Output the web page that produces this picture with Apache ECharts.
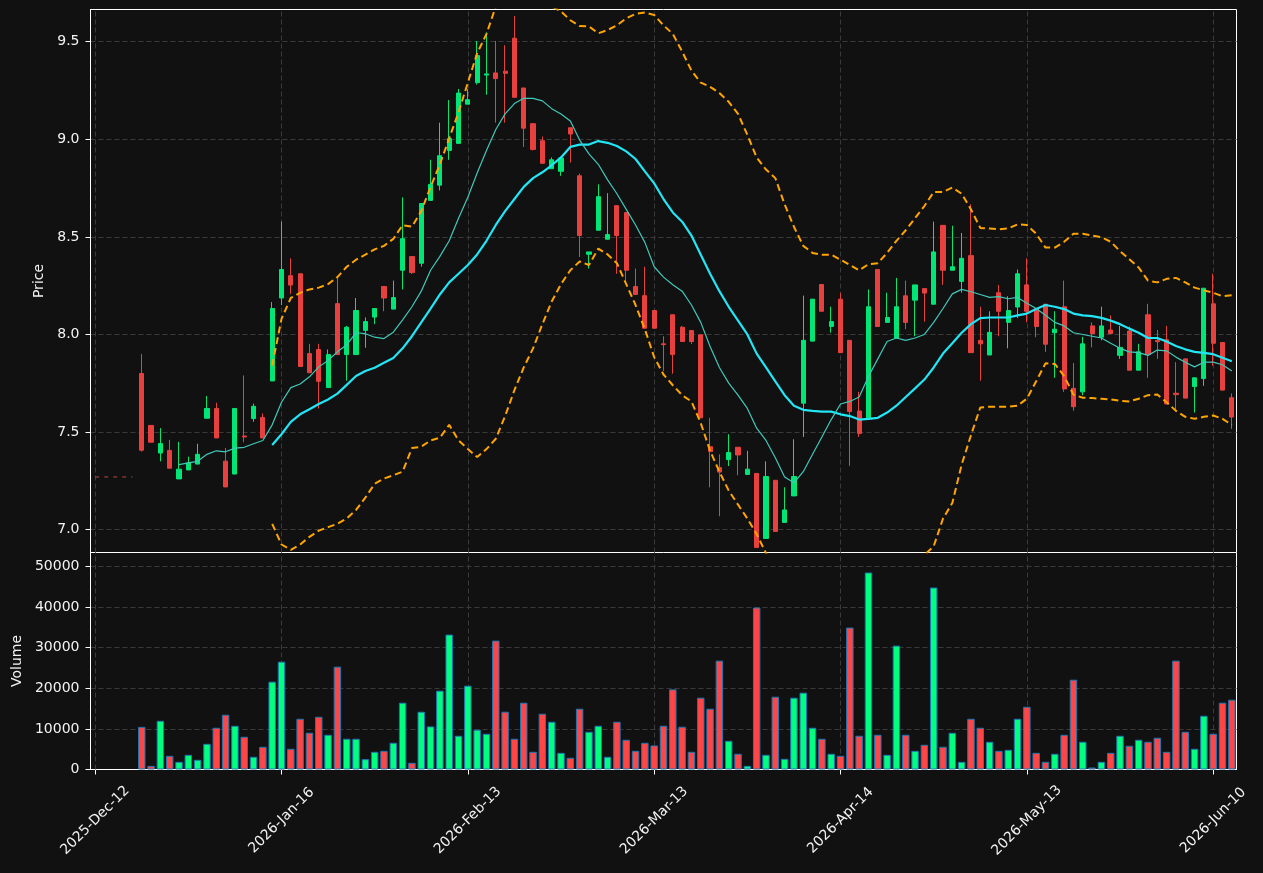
<!DOCTYPE html>
<html>
<head>
<meta charset="utf-8">
<title>Price and Volume</title>
<script src="https://cdn.jsdelivr.net/npm/echarts@6.0.0/dist/echarts.min.js"></script>
<style>
  html, body { margin: 0; padding: 0; background: #111111; }
  #chart { width: 1263px; height: 873px; }
</style>
</head>
<body>
<div id="chart"></div>
<script>
// x axis: one category per trading day, a date label every 20 days
const dayCount = 123;
const firstBar = 5;
const tickStep = 20;
const tickLabels = ['2025-Dec-12', '2026-Jan-16', '2026-Feb-13', '2026-Mar-13', '2026-Apr-14', '2026-May-13', '2026-Jun-10'];
const priceTicks = [7.0, 7.5, 8.0, 8.5, 9.0, 9.5];
const volumeTicks = [0, 10000, 20000, 30000, 40000, 50000];

// OHLC, one entry per bar from day 5 to day 122
const opens = [7.80,7.534,7.393,7.406,7.26,7.306,7.336,7.571,7.621,7.351,7.285,7.48,7.569,7.575,7.762,8.187,
  8.301,8.311,7.902,7.923,7.728,8.158,7.897,7.897,8.021,8.089,8.246,8.13,8.329,8.399,8.365,8.687,8.765,8.943,8.979,9.18,
  9.29,9.329,9.34,9.349,9.518,9.263,9.08,8.993,8.849,8.836,9.059,8.813,8.411,8.534,8.488,8.66,8.625,8.246,8.199,8.123,
  7.952,8.101,8.037,8.02,7.998,7.425,7.318,7.359,7.422,7.283,7.288,6.955,7.253,7.037,7.173,7.648,7.966,8.256,8.041,8.181,
  7.97,7.608,7.573,8.333,8.062,7.982,8.198,8.176,8.235,8.155,8.559,8.329,8.272,8.404,7.97,7.895,8.214,8.062,8.141,8.254,
  8.133,8.155,8.009,8.142,7.724,7.706,8.044,7.986,8.023,7.893,8.018,7.817,8.101,7.97,7.973,7.699,7.875,7.733,7.774,8.157,
  7.959,7.676];
const closes = [7.407,7.448,7.441,7.315,7.31,7.342,7.386,7.621,7.47,7.219,7.621,7.475,7.632,7.47,8.133,8.333,
  8.253,7.836,7.804,7.76,7.897,7.897,8.037,8.123,8.066,8.133,8.187,8.189,8.491,8.317,8.671,8.769,8.916,9.004,9.237,9.203,
  9.429,9.335,9.311,9.338,9.215,9.057,8.948,8.877,8.895,8.904,9.027,8.507,8.423,8.706,8.512,8.507,8.329,8.205,8.032,8.032,
  7.948,7.897,7.964,7.964,7.573,7.40,7.295,7.395,7.383,7.31,6.909,7.272,6.991,7.101,7.272,7.97,8.181,8.119,8.066,7.907,
  7.605,7.493,8.142,8.041,8.087,8.142,8.062,8.254,8.212,8.423,8.329,8.347,8.39,7.907,7.952,8.011,8.119,8.123,8.311,8.119,
  8.041,7.95,8.027,7.721,7.63,7.952,8.005,8.044,8.005,7.934,7.817,7.911,7.897,7.963,7.644,7.692,7.674,7.778,8.237,7.955,
  7.715,7.577];
const lows = [7.40,7.448,7.35,7.315,7.26,7.306,7.336,7.571,7.47,7.219,7.285,7.448,7.553,7.47,7.762,8.151,
  8.208,7.836,7.804,7.621,7.728,7.897,7.763,7.897,7.932,8.053,8.119,8.13,8.231,8.31,8.347,8.687,8.738,8.895,8.979,9.18,
  9.281,9.228,9.085,9.085,9.215,8.961,8.943,8.877,8.849,8.813,8.881,8.397,8.338,8.534,8.488,8.311,8.276,8.205,8.032,8.032,
  7.813,7.799,7.964,7.952,7.573,7.217,7.069,7.326,7.279,7.283,6.909,6.955,6.991,7.037,7.173,7.475,7.966,8.119,8.009,7.907,
  7.327,7.475,7.573,8.041,8.062,7.982,8.027,7.991,8.066,8.155,8.254,8.329,8.214,7.907,7.763,7.895,7.991,7.929,8.084,8.062,
  7.986,7.911,7.778,7.706,7.609,7.689,7.934,7.97,8.005,7.875,7.817,7.817,7.778,7.875,7.644,7.617,7.674,7.6,7.737,7.84,
  7.715,7.516];
const highs = [7.90,7.534,7.52,7.46,7.45,7.374,7.44,7.685,7.65,7.418,7.621,7.79,7.646,7.596,8.166,8.578,
  8.39,8.311,7.952,7.952,7.923,8.294,8.044,8.187,8.087,8.133,8.246,8.276,8.703,8.399,8.671,8.895,9.085,9.201,9.258,9.258,
  9.504,9.548,9.504,9.482,9.632,9.263,9.08,9.014,8.907,8.904,9.059,8.824,8.423,8.769,8.724,8.66,8.625,8.338,8.347,8.123,
  7.991,8.101,8.044,8.02,7.998,7.573,7.386,7.489,7.422,7.404,7.288,7.35,7.253,7.217,7.463,8.199,8.181,8.256,8.142,8.213,
  7.97,7.706,8.231,8.333,8.214,8.29,8.276,8.254,8.235,8.578,8.559,8.557,8.52,8.667,8.142,8.119,8.254,8.196,8.333,8.39,
  8.133,8.155,8.119,8.276,7.854,7.988,8.062,8.142,8.098,8.044,8.041,7.952,8.157,8.023,8.044,7.858,7.875,7.778,8.237,8.311,
  7.959,7.698];
const volumes = [10500,900,12000,3370,1890,3620,2390,6330,10280,13490,10770,8060,3130,5590,21630,26560,
  5100,12500,9050,12990,8550,25330,7570,7570,2550,4360,4600,6580,16450,1650,14230,10610,19410,33230,8310,20640,
  9790,8800,31750,14230,7570,16450,4360,13730,11760,4110,2880,14970,9290,10770,3130,11760,7320,4600,6580,5920,
  10770,19740,10530,4360,17680,14970,26810,7070,3870,900,39890,3620,17930,2630,17680,18920,10280,7570,3870,3370,
  34950,8310,48520,8550,3620,30510,8550,4600,6090,44820,5590,9050,1890,12500,10280,6830,4600,4850,12500,15460,
  4110,1890,3870,8550,22120,6830,490,1890,4110,8310,5840,7320,6830,7810,4360,26810,9290,5100,13240,8800,
  16450,17190];

// fast average, from day 9
const maFastStart = 9;
const maFast = [7.333,7.342,7.35,7.386,7.404,7.399,7.418,7.422,7.44,7.457,7.537,7.653,
  7.728,7.746,7.783,7.834,7.867,7.911,7.947,8.009,8.004,7.986,7.979,8.012,8.075,8.142,8.222,8.329,8.40,8.48,8.596,8.703,
  8.827,8.943,9.05,9.13,9.183,9.21,9.21,9.197,9.157,9.13,9.094,8.996,8.925,8.872,8.792,8.721,8.641,8.561,8.472,8.347,
  8.294,8.255,8.222,8.151,8.062,7.938,7.831,7.751,7.689,7.621,7.52,7.457,7.368,7.27,7.24,7.297,7.386,7.475,7.564,7.644,
  7.657,7.68,7.785,7.875,7.964,7.982,7.97,7.982,8.0,8.062,8.133,8.208,8.231,8.219,8.205,8.19,8.194,8.183,8.19,8.16,
  8.133,8.098,8.062,8.044,8.009,8.0,7.991,7.982,7.955,7.929,7.911,7.907,7.893,7.92,7.916,7.884,7.858,7.834,7.858,7.858,
  7.845,7.813];

// slow average and its bands, from day 19
const maSlowStart = 19;
const maSlow = [7.434,7.489,
  7.552,7.591,7.617,7.644,7.667,7.697,7.742,7.787,7.813,7.83,7.855,7.88,7.929,7.991,8.062,8.133,8.205,8.267,8.311,8.356,
  8.41,8.48,8.561,8.632,8.694,8.756,8.801,8.831,8.867,8.907,8.961,8.973,8.973,8.991,8.982,8.966,8.938,8.899,8.836,8.774,
  8.694,8.625,8.578,8.507,8.409,8.311,8.222,8.142,8.071,8.0,7.902,7.831,7.76,7.689,7.635,7.614,7.609,7.605,7.605,7.591,
  7.582,7.564,7.568,7.573,7.6,7.635,7.68,7.724,7.769,7.831,7.902,7.955,8.009,8.053,8.084,8.087,8.087,8.087,8.098,8.107,
  8.13,8.151,8.142,8.13,8.107,8.098,8.094,8.085,8.071,8.053,8.03,8.009,7.982,7.982,7.964,7.941,7.924,7.911,7.906,7.899,
  7.881,7.863];
const bandUpper = [7.84,8.08,
  8.187,8.213,8.231,8.24,8.258,8.294,8.347,8.383,8.409,8.436,8.454,8.49,8.56,8.552,8.632,8.756,8.872,9.005,9.139,9.29,
  9.441,9.54,9.68,9.72,9.74,9.75,9.74,9.71,9.68,9.655,9.61,9.58,9.578,9.543,9.56,9.584,9.62,9.642,9.65,9.637,
  9.584,9.54,9.45,9.352,9.29,9.269,9.237,9.192,9.13,9.023,8.907,8.845,8.801,8.667,8.552,8.454,8.418,8.409,8.409,8.383,
  8.356,8.329,8.36,8.365,8.418,8.48,8.534,8.596,8.658,8.73,8.73,8.753,8.721,8.641,8.546,8.543,8.539,8.543,8.564,8.561,
  8.516,8.445,8.445,8.475,8.516,8.516,8.507,8.498,8.475,8.427,8.386,8.343,8.276,8.267,8.285,8.29,8.267,8.24,8.226,8.214,
  8.196,8.201];
const bandLower = [7.03,6.924,
  6.897,6.924,6.963,6.995,7.013,7.03,7.057,7.101,7.164,7.235,7.262,7.279,7.297,7.418,7.425,7.457,7.471,7.537,7.457,7.413,
  7.372,7.413,7.466,7.582,7.715,7.831,7.929,8.053,8.169,8.258,8.329,8.374,8.356,8.44,8.41,8.365,8.258,8.151,8.027,7.884,
  7.795,7.74,7.689,7.657,7.546,7.404,7.297,7.2,7.128,7.057,6.977,6.88,6.74,6.71,6.72,6.77,6.8,6.8,6.8,6.8,
  6.81,6.8,6.77,6.78,6.78,6.79,6.83,6.85,6.87,6.915,7.057,7.137,7.333,7.484,7.626,7.63,7.63,7.63,7.635,7.671,
  7.76,7.852,7.849,7.787,7.692,7.676,7.674,7.671,7.667,7.66,7.657,7.671,7.689,7.692,7.653,7.609,7.578,7.568,7.578,7.585,
  7.568,7.537];

// short dashed reference level before the first bar
const refLevel = [7.27, 7.27, 7.27, 7.27, 7.27];

const upColor = '#00e676', downColor = '#e8403f';
const volUp = '#00ff7f', volDown = '#ff4545';
const textColor = '#f2f2f2', gridColor = '#3a3a3a';
const font = 'DejaVu Sans';

const categories = Array.from({ length: dayCount }, (_, i) => String(i));
const pad = (start, arr, empty) => new Array(start).fill(empty).concat(arr);
const candles = pad(firstBar, opens.map((o, i) => [o, closes[i], lows[i], highs[i]]), ['-', '-', '-', '-']);
const volBars = pad(firstBar, volumes.map((v, i) => ({
  value: v,
  itemStyle: { color: closes[i] >= opens[i] ? volUp : volDown }
})), '-');
const tickIndexes = tickLabels.map((_, i) => i * tickStep);
const isTick = (index) => index % tickStep === 0;

const vGrid = {
  silent: true,
  z: 1,
  symbol: ['none', 'none'],
  label: { show: false },
  animation: false,
  lineStyle: { color: gridColor, type: [5, 3], width: 1 },
  emphasis: { disabled: true },
  data: tickIndexes.map(i => ({ xAxis: i }))
};

const yLabel = { color: textColor, fontFamily: font, fontSize: 14, margin: 11 };
const yName = { color: textColor, fontFamily: font, fontSize: 14 };
const white = { lineStyle: { color: '#ffffff', width: 1 } };
const split = { show: true, lineStyle: { color: gridColor, type: [5, 3], width: 1 } };

const lineSeries = (name, start, values, color, width, dash) => ({
  name, type: 'line', xAxisIndex: 0, yAxisIndex: 0,
  data: pad(start, values, '-'),
  symbol: 'none', showSymbol: false, smooth: false,
  lineStyle: { color, width, type: dash || 'solid' },
  emphasis: { disabled: true },
  animation: false
});

const chart = echarts.init(document.getElementById('chart'));
chart.setOption({
  backgroundColor: '#111111',
  animation: false,
  grid: [
    { left: 90.5, top: 9.5, width: 1146, height: 543, show: true, backgroundColor: '#111111',
      borderColor: '#ffffff', borderWidth: 1, outerBoundsMode: 'none' },
    { left: 90.5, top: 552.5, width: 1146, height: 217, show: true, backgroundColor: '#111111',
      borderColor: '#ffffff', borderWidth: 1, outerBoundsMode: 'none' }
  ],
  xAxis: [
    { type: 'category', gridIndex: 0, data: categories, boundaryGap: true,
      axisLine: { show: false }, axisTick: { show: false }, axisLabel: { show: false }, splitLine: { show: false } },
    { type: 'category', gridIndex: 1, data: categories, boundaryGap: true,
      axisLine: { show: true, ...white },
      axisTick: { show: true, alignWithLabel: true, interval: isTick, length: 5, ...white },
      axisLabel: {
        interval: isTick, rotate: 45, align: 'center', verticalAlign: 'middle', margin: 51,
        color: textColor, fontFamily: font, fontSize: 14,
        formatter: (v, i) => tickLabels[Math.round(i / tickStep)] || ''
      },
      splitLine: { show: false } }
  ],
  yAxis: [
    { type: 'value', gridIndex: 0, min: 6.883, max: 9.665, scale: true,
      name: 'Price', nameLocation: 'middle', nameRotate: 90, nameGap: 38, nameTextStyle: yName,
      axisLine: { show: true, ...white },
      axisTick: { show: true, length: 5, customValues: priceTicks, ...white },
      axisLabel: { ...yLabel, customValues: priceTicks, formatter: v => v.toFixed(1) },
      splitLine: split },
    { type: 'value', gridIndex: 1, min: 0, max: 53450,
      name: 'Volume', nameLocation: 'middle', nameRotate: 90, nameGap: 66, nameTextStyle: yName,
      axisLine: { show: true, ...white },
      axisTick: { show: true, length: 5, customValues: volumeTicks, ...white },
      axisLabel: { ...yLabel, customValues: volumeTicks, formatter: v => String(v) },
      splitLine: split }
  ],
  series: [
    {
      name: 'OHLC', type: 'candlestick', xAxisIndex: 0, yAxisIndex: 0,
      data: candles, barWidth: '50%',
      itemStyle: { color: upColor, color0: downColor, borderColor: upColor, borderColor0: downColor, borderWidth: 1 },
      emphasis: { disabled: true },
      markLine: vGrid
    },
    lineSeries('Upper', maSlowStart, bandUpper, '#ffa500', 2, [7, 4]),
    lineSeries('Lower', maSlowStart, bandLower, '#ffa500', 2, [7, 4]),
    lineSeries('MA slow', maSlowStart, maSlow, '#22e5f5', 2.2),
    lineSeries('MA fast', maFastStart, maFast, '#40c9b9', 1.2),
    lineSeries('Ref', 0, refLevel, '#b44a4a', 1, [4, 5]),
    {
      name: 'Volume', type: 'bar', xAxisIndex: 1, yAxisIndex: 1,
      data: volBars, barWidth: '80%',
      itemStyle: { borderColor: '#1f77b4', borderWidth: 1 },
      emphasis: { disabled: true },
      markLine: vGrid
    }
  ]
});
</script>
</body>
</html>
